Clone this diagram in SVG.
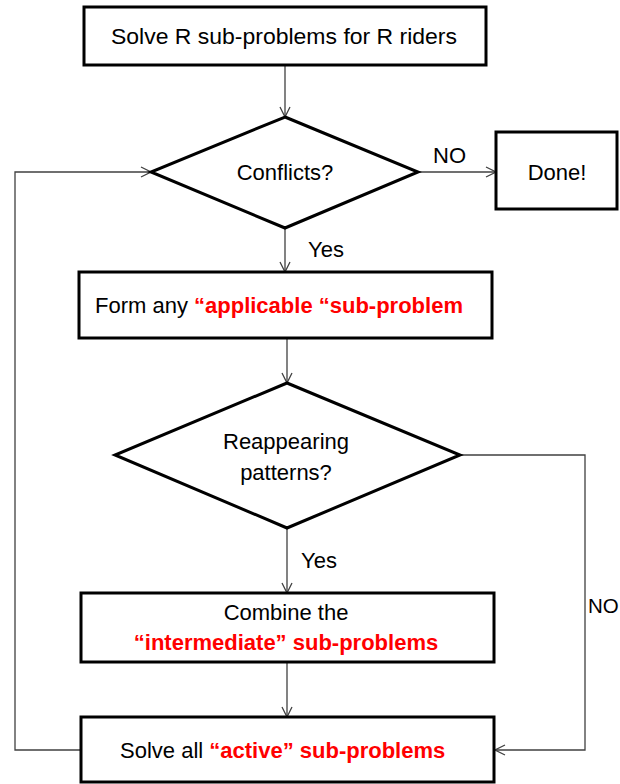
<svg xmlns="http://www.w3.org/2000/svg" width="620" height="784" viewBox="0 0 620 784">
<style>
.box{fill:#fff;stroke:#000;stroke-width:3}
.conn{fill:none;stroke:#404040;stroke-width:1.3}
text{font-family:"Liberation Sans",Arial,sans-serif;font-size:22px;fill:#000}
.c{text-anchor:middle}
.red{fill:#ff0000;font-weight:bold}
</style>
<defs>
<marker id="arr" markerUnits="userSpaceOnUse" markerWidth="12" markerHeight="12" viewBox="0 0 12 12" refX="11" refY="6" orient="auto">
<path d="M1,1 L11,6 L1,11" fill="none" stroke="#404040" stroke-width="1.3"/>
</marker>
</defs>
<rect width="620" height="784" fill="#fff"/>
<g id="connectors">
<path class="conn" d="M285,65 L285,117" marker-end="url(#arr)"/>
<path class="conn" d="M285,228 L285,272" marker-end="url(#arr)"/>
<path class="conn" d="M418,172 L496,172" marker-end="url(#arr)"/>
<path class="conn" d="M287,338 L287,383" marker-end="url(#arr)"/>
<path class="conn" d="M287,528 L287,593" marker-end="url(#arr)"/>
<path class="conn" d="M287,662 L287,717" marker-end="url(#arr)"/>
<path class="conn" d="M460,455 L585,455 L585,750 L495,750" marker-end="url(#arr)"/>
<path class="conn" d="M81,750 L15,750 L15,172 L151,172" marker-end="url(#arr)"/>
<text x="433" y="163">NO</text>
<text x="308" y="257">Yes</text>
<text x="301" y="568">Yes</text>
<text x="588" y="613" style="font-size:20.5px">NO</text>
</g>
<g id="start">
<rect class="box" x="84" y="7" width="402" height="58"/>
<text class="c" x="284" y="44" textLength="346" lengthAdjust="spacingAndGlyphs">Solve R sub-problems for R riders</text>
</g>
<g id="conflicts">
<polygon class="box" points="285,117 418,172 285,228 151,172"/>
<text class="c" x="285" y="180">Conflicts?</text>
</g>
<g id="done">
<rect class="box" x="496" y="132" width="121" height="77"/>
<text class="c" x="557" y="180">Done!</text>
</g>
<g id="form">
<rect class="box" x="79" y="272" width="413" height="66"/>
<text x="95" y="313">Form any <tspan class="red">“applicable “sub-problem</tspan></text>
</g>
<g id="reappearing">
<polygon class="box" points="287,383 460,455 287,528 115,455"/>
<text class="c" x="286" y="449">Reappearing</text>
<text class="c" x="286" y="480">patterns?</text>
</g>
<g id="combine">
<rect class="box" x="81" y="593" width="413" height="69"/>
<text class="c" x="286" y="620">Combine the</text>
<text class="c red" x="286" y="650">“intermediate” sub-problems</text>
</g>
<g id="solveall">
<rect class="box" x="81" y="717" width="413" height="65"/>
<text x="120" y="758">Solve all <tspan class="red">“active” sub-problems</tspan></text>
</g>
</svg>
